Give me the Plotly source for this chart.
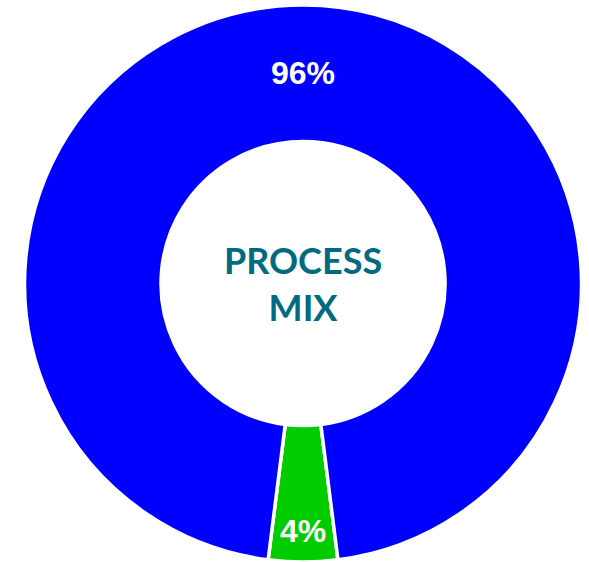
import plotly.graph_objects as go

labels = ["Process B", "Process A"]
values = [4, 96]
colors = ["#00CC00", "#0000FF"]
center_title = "PROCESS<br>MIX"

fig = go.Figure(go.Pie(
    labels=labels,
    values=values,
    sort=False,
    direction="clockwise",
    rotation=172.8,
    hole=0.51,
    marker=dict(colors=colors, line=dict(color="white", width=3.5)),
    texttemplate="<b>%{percent:.0%}</b>",
    textposition="inside",
    insidetextorientation="horizontal",
    textfont=dict(family="Liberation Sans, Arial, sans-serif", size=32, color="white"),
    title=dict(text="<b>" + center_title + "</b>", position="middle center",
               font=dict(family="Lato, sans-serif", size=36, color="#006A80")),
    domain=dict(x=[0.041, 0.988], y=[0.0, 0.991]),
    showlegend=False,
    hoverinfo="label+percent",
))

fig.update_layout(
    width=589, height=562,
    margin=dict(l=0, r=0, t=0, b=0),
    paper_bgcolor="white",
    plot_bgcolor="white",
)

fig.write_html("out.html", config={"displayModeBar": False},
               post_script="document.body.style.margin='0px';")
